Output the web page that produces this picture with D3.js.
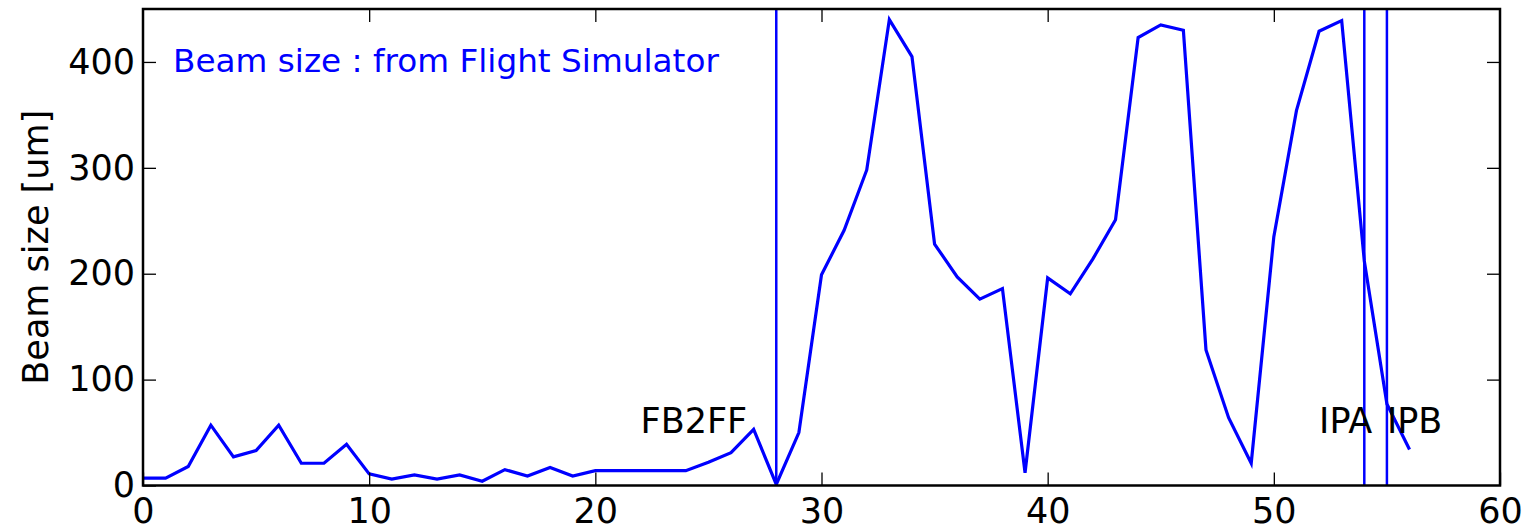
<!DOCTYPE html>
<html>
<head>
<meta charset="utf-8">
<script src="https://cdn.jsdelivr.net/npm/d3@7"></script>
<style>
  html, body { margin: 0; padding: 0; background: #fff; }
  svg { display: block; font-family: "DejaVu Sans", sans-serif; }
</style>
</head>
<body>
<svg id="chart" width="1535" height="531"></svg>
<script>
// Beam size along the beamline, one value per element index
const elementIndex = d3.range(0, 57);
const beamSize = [
  7, 7, 18, 57, 27, 33, 57, 21, 21, 39,
  11, 6, 10, 6, 10, 4, 15, 9, 17, 9,
  14, 14, 14, 14, 14, 22, 31, 53, 1, 50,
  199, 241, 298, 440, 405, 228, 197, 176, 186, 12,
  196, 181, 214, 251, 423, 435, 430, 128, 64, 21,
  235, 354, 429, 439, 212, 77, 34
];

// Marked locations along the beamline
const markerPositions = [28, 54, 55];
const markerLabels = ["FB2FF", "IPA", "IPB"];
const markerLabelX = [22, 52, 55];
const markerLabelY = [50, 50, 50];

const xTicks = [0, 10, 20, 30, 40, 50, 60];
const yTicks = [0, 100, 200, 300, 400];
const xDomain = [0, 60];
const yDomain = [0, 450];

const titleText = "Beam size : from Flight Simulator";
const yLabelText = "Beam size [um]";

const margin = { left: 143, right: 35, top: 9, bottom: 45.5 };
const W = 1535, H = 531;
const svg = d3.select("#chart");

const x = d3.scaleLinear().domain(xDomain).range([margin.left, W - margin.right]);
const y = d3.scaleLinear().domain(yDomain).range([H - margin.bottom, margin.top]);

const blue = "#0000ff";
const fontSize = 35;
const tickLen = 13;

// clip for data marks
svg.append("defs").append("clipPath").attr("id", "plotClip")
  .append("rect")
  .attr("x", x(xDomain[0])).attr("y", y(yDomain[1]))
  .attr("width", x(xDomain[1]) - x(xDomain[0]))
  .attr("height", y(yDomain[0]) - y(yDomain[1]));

const plot = svg.append("g").attr("clip-path", "url(#plotClip)");

// vertical marker lines
plot.selectAll("line.marker")
  .data(markerPositions)
  .join("line")
  .attr("class", "marker")
  .attr("x1", d => x(d)).attr("x2", d => x(d))
  .attr("y1", y(yDomain[0])).attr("y2", y(yDomain[1]))
  .attr("stroke", blue).attr("stroke-width", 2.5);

// beam size curve
const line = d3.line().x((d, i) => x(elementIndex[i])).y(d => y(d));
plot.append("path")
  .datum(beamSize)
  .attr("d", line)
  .attr("fill", "none")
  .attr("stroke", blue)
  .attr("stroke-width", 3.2)
  .attr("stroke-linejoin", "miter");

// axes with inward ticks on all four sides
const axisBottom = d3.axisBottom(x).tickValues(xTicks).tickSizeInner(-tickLen).tickSizeOuter(0).tickPadding(13);
const axisTop = d3.axisTop(x).tickValues(xTicks.slice(1, -1)).tickSizeInner(-tickLen).tickSizeOuter(0).tickFormat("");
const axisLeft = d3.axisLeft(y).tickValues(yTicks).tickSizeInner(-tickLen).tickSizeOuter(0).tickPadding(8);
const axisRight = d3.axisRight(y).tickValues(yTicks.slice(1)).tickSizeInner(-tickLen).tickSizeOuter(0).tickFormat("");

function styleAxis(g) {
  g.select(".domain").remove();
  g.selectAll(".tick line").attr("stroke", "#000").attr("stroke-width", 1.3);
  g.selectAll(".tick text").attr("fill", "#000").style("font-size", fontSize + "px")
    .style("font-family", "DejaVu Sans, sans-serif");
}

svg.append("g").attr("transform", `translate(0,${y(yDomain[0])})`).call(axisBottom).call(styleAxis);
svg.append("g").attr("transform", `translate(0,${y(yDomain[1])})`).call(axisTop).call(styleAxis);
svg.append("g").attr("transform", `translate(${x(xDomain[0])},0)`).call(axisLeft).call(styleAxis);
svg.append("g").attr("transform", `translate(${x(xDomain[1])},0)`).call(axisRight).call(styleAxis);

// frame
svg.append("rect")
  .attr("x", x(xDomain[0])).attr("y", y(yDomain[1]))
  .attr("width", x(xDomain[1]) - x(xDomain[0]))
  .attr("height", y(yDomain[0]) - y(yDomain[1]))
  .attr("fill", "none").attr("stroke", "#000").attr("stroke-width", 2.5);

// marker labels
svg.selectAll("text.mlabel")
  .data(markerLabels)
  .join("text")
  .attr("class", "mlabel")
  .attr("x", (d, i) => x(markerLabelX[i]))
  .attr("y", (d, i) => y(markerLabelY[i]))
  .attr("fill", "#000")
  .style("font-size", fontSize + "px")
  .text(d => d);

// y axis label
svg.append("text")
  .attr("transform", `translate(48,${(y(yDomain[0]) + y(yDomain[1])) / 2}) rotate(-90)`)
  .attr("text-anchor", "middle")
  .attr("fill", "#000")
  .style("font-size", fontSize + "px")
  .text(yLabelText);

// annotation in the upper left of the plot
const title = svg.append("text")
  .attr("x", 173).attr("y", 72)
  .attr("fill", blue)
  .style("font-size", "32px")
  .text(titleText);
const tw = title.node().getComputedTextLength();
title.style("font-size", (32 * 546 / tw).toFixed(2) + "px");
</script>
</body>
</html>
